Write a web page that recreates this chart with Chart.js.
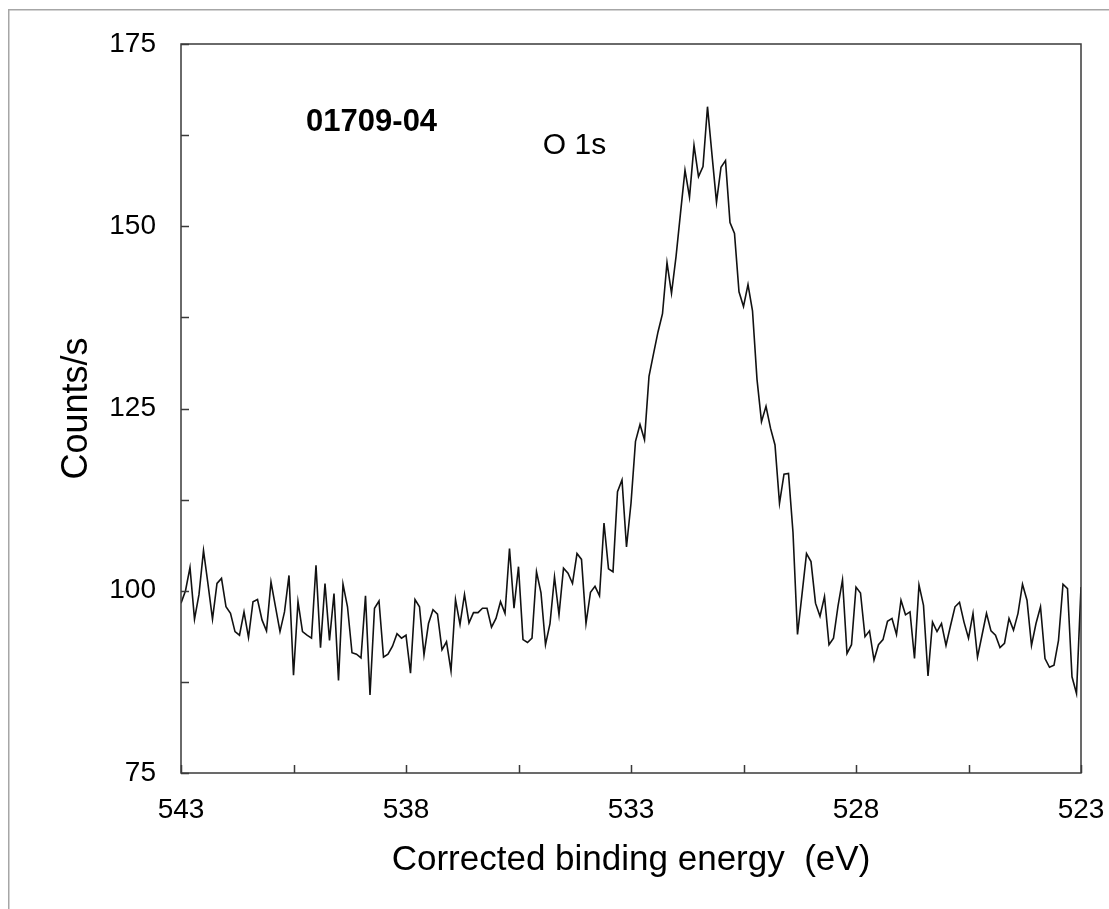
<!DOCTYPE html>
<html>
<head>
<meta charset="UTF-8">
<title>O 1s spectrum</title>
<script src="https://cdn.jsdelivr.net/npm/chart.js"></script>
<style>
  html, body { margin: 0; padding: 0; background: #fff; }
  #wrap { position: relative; width: 1109px; height: 909px; }
</style>
</head>
<body>
<div id="wrap"><canvas id="xps" width="1109" height="909"></canvas></div>
<script>
  // binding energy grid of the scan (eV), high to low
  const energyStart = 543;
  const energyStep = 0.1;

  // counts/s, one per energy step
  const counts = [
    98.3, 100, 103.2, 96.1, 99.5, 105.5, 100.9, 96.1, 101, 101.7,
    97.8, 96.9, 94.4, 93.9, 97.1, 93.6, 98.5, 98.8, 96, 94.5,
    101.2, 97.8, 94.4, 97.1, 102.1, 88.4, 98.5, 94.4, 93.9, 93.5,
    103.5, 92.2, 101, 93.2, 99.6, 87.7, 100.9, 97.8, 91.5, 91.3,
    90.8, 99.3, 85.7, 97.6, 98.6, 90.9, 91.3, 92.4, 94.1, 93.5,
    93.9, 88.7, 98.8, 97.8, 91.2, 95.5, 97.4, 96.8, 91.9, 93,
    89, 98.8, 95.4, 99.5, 95.6, 97, 97, 97.6, 97.6, 95,
    96.2, 98.5, 96.9, 105.8, 97.6, 103.3, 93.3, 92.9, 93.5, 102.6,
    99.7, 92.6, 95.5, 101.9, 96.7, 103.1, 102.4, 101, 105.1, 104.3,
    95.5, 99.8, 100.6, 99.3, 109.3, 103, 102.6, 113.6, 115.2, 106,
    112, 120.5, 122.8, 120.7, 129.4, 132.5, 135.5, 138, 145, 140.8,
    145.8, 151.8, 157.7, 154, 161.1, 156.8, 158.2, 166.4, 159.8, 153.3,
    158.1, 159, 150.5, 149, 141, 139, 142, 138.4, 129, 123.2,
    125.3, 122.3, 120, 112, 116, 116.1, 108, 94, 99.5, 105.1,
    104, 98.3, 96.5, 99.2, 92.6, 93.5, 97.9, 101.5, 91.4, 92.6,
    100.5, 99.7, 93.7, 94.5, 90.5, 92.6, 93.3, 95.8, 96.2, 94,
    98.7, 96.7, 97.1, 90.7, 100.8, 98, 88.3, 95.7, 94.4, 95.5,
    92.5, 95.2, 97.8, 98.4, 95.7, 93.5, 96.9, 90.9, 93.9, 96.9,
    94.5, 93.9, 92.2, 92.8, 96.2, 94.6, 96.9, 100.9, 98.7, 92.5,
    95.5, 97.8, 90.7, 89.5, 89.8, 93.2, 100.9, 100.3, 88.2, 85.9,
    100.5
  ];

  // axis ranges and labelled ticks
  const xRange = [523, 543];
  const yRange = [75, 175];
  const xLabelTicks = [543, 538, 533, 528, 523];
  const yLabelTicks = [75, 100, 125, 150, 175];

  // text notes placed in data coordinates
  const notes = [
    { text: '01709-04', x: 540.22, y: 163.0, bold: true },
    { text: 'O 1s', x: 534.96, y: 159.9, bold: false }
  ];

  const points = counts.map((c, i) => ({
    x: +(energyStart - i * energyStep).toFixed(2),
    y: c
  }));

  const FONT = "'Liberation Sans', Arial, sans-serif";

  const frameAndTicks = {
    id: 'frameAndTicks',
    beforeDraw(chart) {
      const ctx = chart.ctx;
      ctx.save();
      ctx.strokeStyle = '#a6a6a6';
      ctx.lineWidth = 1.5;
      ctx.beginPath();
      ctx.moveTo(8.75, 909);
      ctx.lineTo(8.75, 9.75);
      ctx.lineTo(1109, 9.75);
      ctx.stroke();
      ctx.restore();
    },
    afterDatasetsDraw(chart) {
      const { ctx, chartArea: a } = chart;
      const xs = chart.scales.x, ys = chart.scales.y;
      ctx.save();
      ctx.strokeStyle = '#3a3a3a';
      ctx.lineWidth = 1.5;
      ctx.strokeRect(a.left, a.top, a.right - a.left, a.bottom - a.top);
      ctx.beginPath();
      xs.ticks.forEach(t => {
        const px = Math.round(xs.getPixelForValue(t.value)) + 0.5;
        ctx.moveTo(px, a.bottom);
        ctx.lineTo(px, a.bottom - 8);
      });
      ys.ticks.forEach(t => {
        const py = Math.round(ys.getPixelForValue(t.value)) + 0.5;
        ctx.moveTo(a.left, py);
        ctx.lineTo(a.left + 8, py);
      });
      ctx.stroke();

      ctx.fillStyle = '#000';
      ctx.textBaseline = 'alphabetic';
      ctx.textAlign = 'left';
      notes.forEach(n => {
        ctx.font = (n.bold ? 'bold ' : '') + (n.bold ? '31px ' : '30px ') + FONT;
        ctx.fillText(n.text, xs.getPixelForValue(n.x), ys.getPixelForValue(n.y));
      });
      ctx.restore();
    }
  };

  new Chart(document.getElementById('xps'), {
    type: 'line',
    data: {
      datasets: [{
        data: points,
        borderColor: '#111',
        borderWidth: 1.6,
        pointRadius: 0,
        tension: 0,
        fill: false
      }]
    },
    options: {
      responsive: false,
      animation: false,
      devicePixelRatio: 1,
      layout: { padding: { top: 44, right: 28, left: 0, bottom: 0 } },
      plugins: { legend: { display: false }, tooltip: { enabled: false } },
      scales: {
        x: {
          type: 'linear',
          min: xRange[0],
          max: xRange[1],
          reverse: true,
          afterFit: s => {
            s.height = 136;
            s.paddingLeft = 0;
            s.paddingRight = 0;
          },
          grid: { display: false, drawTicks: false },
          border: { display: false },
          ticks: {
            stepSize: 2.5,
            padding: 20,
            color: '#000',
            font: { family: FONT, size: 28 },
            maxRotation: 0,
            autoSkip: false,
            callback: v => xLabelTicks.includes(v) ? String(v) : ''
          },
          title: {
            display: true,
            text: 'Corrected binding energy  (eV)',
            color: '#000',
            font: { family: FONT, size: 35 },
            padding: { top: 0, bottom: 28 }
          }
        },
        y: {
          min: yRange[0],
          max: yRange[1],
          afterFit: s => {
            s.width = 181;
            s.paddingTop = 0;
            s.paddingBottom = 0;
          },
          grid: { display: false, drawTicks: false },
          border: { display: false },
          ticks: {
            stepSize: 12.5,
            padding: 25,
            color: '#000',
            font: { family: FONT, size: 28 },
            autoSkip: false,
            callback: v => yLabelTicks.includes(v) ? String(v) : ''
          },
          title: {
            display: true,
            text: 'Counts/s',
            color: '#000',
            font: { family: FONT, size: 36 },
            padding: { top: 55, bottom: 0 }
          }
        }
      }
    },
    plugins: [frameAndTicks]
  });
</script>
</body>
</html>
